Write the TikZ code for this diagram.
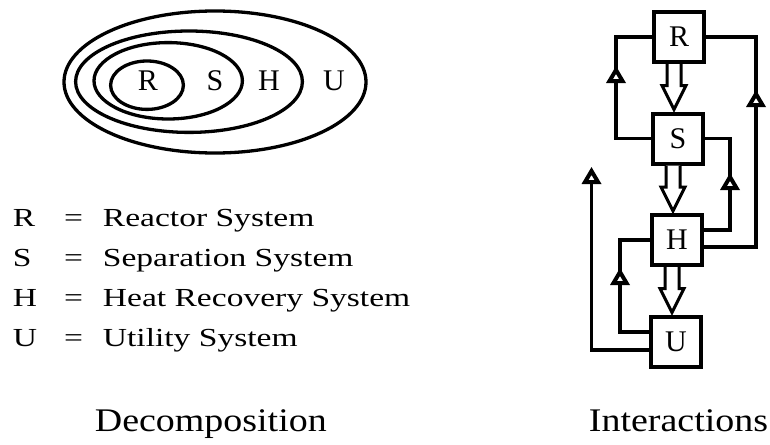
\documentclass[tikz,border=0pt]{standalone}
\usepackage{fontspec}
\usepackage{graphicx}
\setmainfont{Liberation Serif}
\usetikzlibrary{arrows.meta,calc}
\newcommand\hs[1]{\scalebox{1.29}[1]{#1}}
\newcommand\flowarrow[2]{%
  \draw[flow] ($(#1.south -| #2.north)+(-11,0)$) -- ($(#2.north)+(-11,-26)$) -- ($(#2.north)+(-16,-26)$) -- ($(#2.north)+(-4,-2)$) -- ($(#2.north)+(8,-26)$) -- ($(#2.north)+(3,-26)$) -- ($(#1.south -| #2.north)+(3,0)$);}
\begin{document}
\begin{tikzpicture}[x=1pt,y=-1pt,
  ell/.style={line width=3.3pt},
  sys/.style={draw,line width=4pt,minimum size=50pt,inner sep=0pt,font=\fontsize{30}{32}\selectfont},
  fb/.style={line width=3.5pt},
  flow/.style={line width=3pt,fill=white,line join=miter},
  uptip/.pic={\draw[line width=4pt,fill=white,line join=miter,miter limit=4] (-6.5,11) -- (0,0) -- (6.5,11) -- cycle;},
  lbl/.style={anchor=base,inner sep=0pt,font=\fontsize{30}{32}\selectfont},
  leg/.style={anchor=base west,inner sep=0pt,font=\fontsize{26}{30}\selectfont},
  capt/.style={anchor=base,inner sep=0pt,font=\fontsize{33}{36}\selectfont}]

\useasboundingbox (0,0) rectangle (770,444);

% --- Decomposition: nested ellipses ---
\draw[ell] (215,82) ellipse [x radius=151pt, y radius=71pt];
\draw[ell] (189,81.7) ellipse [x radius=113.4pt, y radius=50.7pt];
\draw[ell] (168.2,80.8) ellipse [x radius=74.2pt, y radius=38.2pt];
\draw[ell] (147,85.2) ellipse [x radius=36.4pt, y radius=24.2pt];

\node[lbl] (eR) at (148,90) {R};
\node[lbl] (eS) at (215,90) {S};
\node[lbl] (eH) at (269,90) {H};
\node[lbl] (eU) at (334,90) {U};

% --- Legend ---
\node[leg] (kR) at (12.7,226.7) {\hs{R}};
\node[leg] (qR) at (64,226.7) {\hs{=}};
\node[leg] (tR) at (102.7,226.7) {\hs{Reactor System}};
\node[leg] (kS) at (12.7,266.7) {\hs{S}};
\node[leg] (qS) at (64,266.7) {\hs{=}};
\node[leg] (tS) at (102.7,266.7) {\hs{Separation System}};
\node[leg] (kH) at (12.7,306.7) {\hs{H}};
\node[leg] (qH) at (64,306.7) {\hs{=}};
\node[leg] (tH) at (102.7,306.7) {\hs{Heat Recovery System}};
\node[leg] (kU) at (12.7,346.7) {\hs{U}};
\node[leg] (qU) at (64,346.7) {\hs{=}};
\node[leg] (tU) at (102.7,346.7) {\hs{Utility System}};

\node[capt] (dec) at (210.8,431.7) {\scalebox{1.15}[1]{Decomposition}};
\node[capt] (int) at (678.5,431.7) {\scalebox{1.15}[1]{Interactions}};

% --- Interactions: boxes ---
\node[sys] (R) at (679,37) {R};
\node[sys] (S) at (678,138.5) {S};
\node[sys] (H) at (677,240) {H};
\node[sys] (U) at (676,341.5) {U};

% main flow (hollow double arrows)
\flowarrow{R}{S}
\flowarrow{S}{H}
\flowarrow{H}{U}

% corner columns of the feedback lines
\coordinate (cL1) at (616,0);
\coordinate (cR1) at (756,0);
\coordinate (cR2) at (730,0);
\coordinate (cL2) at (620,0);
\coordinate (cL3) at (591.5,180);

% feedback connections
\draw[fb] (S.west) -| (cL1 |- R.west) -- (R.west);
\draw[fb] ([yshift=-7pt]H.east) -| (cR1 |- R.east) -- (R.east);
\draw[fb] ([yshift=10pt]H.east) -| (cR2 |- S.east) -- (S.east);
\draw[fb] ([yshift=9.5pt]U.west) -| (cL2 |- H.west) -- (H.west);
\draw[fb] ([yshift=-8.5pt]U.west) -| (cL3);

% open arrowheads pointing up
\pic at (616,70) {uptip};
\pic at (756,94) {uptip};
\pic at (730,177) {uptip};
\pic at (620,272) {uptip};
\pic at (591.5,171) {uptip};
\end{tikzpicture}
\end{document}
